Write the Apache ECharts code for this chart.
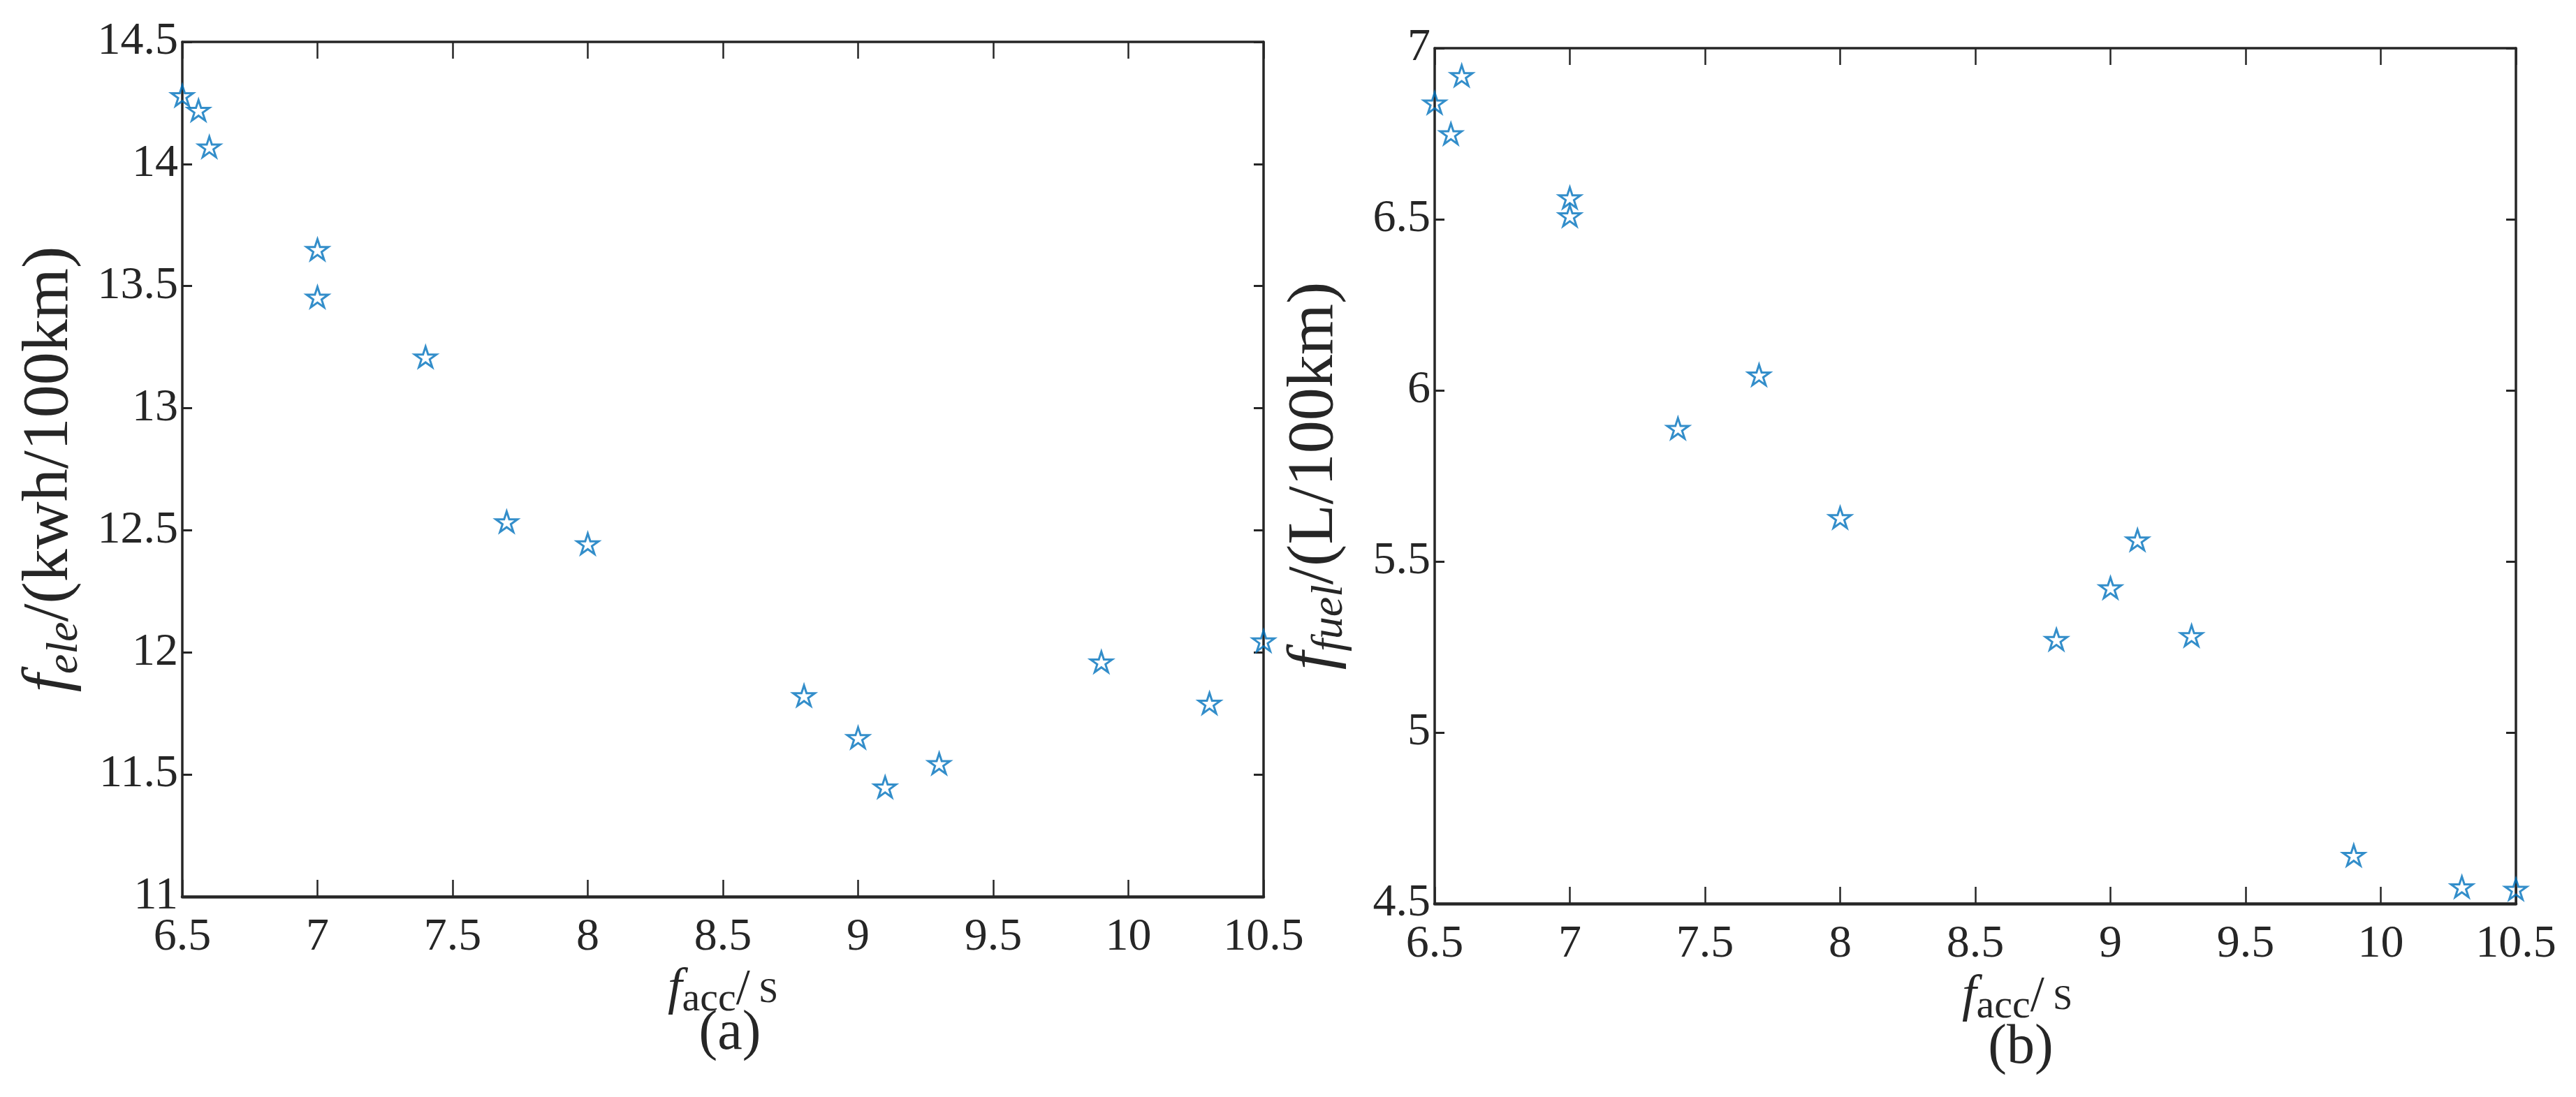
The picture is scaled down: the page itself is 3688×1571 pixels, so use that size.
<!DOCTYPE html>
<html>
<head>
<meta charset="utf-8">
<script src="https://cdn.jsdelivr.net/npm/echarts@6/dist/echarts.min.js"></script>
<style>
html,body{margin:0;padding:0;background:#fff;}
#c{width:3688px;height:1571px;}
</style>
</head>
<body>
<div id="c"></div>
<script>
// ---- data ----
const accA = [6.5, 6.56, 6.6, 7.0, 7.0, 7.4, 7.7, 8.0, 8.8, 9.0, 9.1, 9.3, 9.9, 10.3, 10.5];
const eleA = [14.28, 14.22, 14.07, 13.65, 13.455, 13.21, 12.535, 12.445, 11.823, 11.651, 11.449, 11.545, 11.961, 11.792, 12.047];
const accB = [6.5, 6.56, 6.6, 7.0, 7.0, 7.4, 7.7, 8.0, 8.8, 9.0, 9.1, 9.3, 9.9, 10.3, 10.5];
const fuelB = [6.84, 6.75, 6.92, 6.563, 6.51, 5.889, 6.045, 5.628, 5.272, 5.423, 5.563, 5.283, 4.641, 4.549, 4.542];
const xRange = [6.5, 10.5];
const yRangeA = [11, 14.5];
const yRangeB = [4.5, 7];
const step = 0.5;
const panelLabels = ['(a)', '(b)'];

const FONT = 'Liberation Serif';
const INK = '#262626';
const BLUE = '#0072BD';
const STAR = 'path://M50 0 L61.23 34.55 L97.55 34.55 L68.17 55.9 L79.39 90.45 L50 69.1 L20.61 90.45 L31.83 55.9 L2.45 34.55 L38.77 34.55 Z';

function pairs(xs, ys) { return xs.map((x, i) => [x, ys[i]]); }

const lineStyle = { color: INK, width: 3.5 };
function xAx(grid, pos, show, nameCfg) {
  const a = {
    type: 'value', gridIndex: grid, position: pos, min: xRange[0], max: xRange[1], interval: step,
    axisLine: { show: true, onZero: false, lineStyle: { color: INK, width: pos === 'bottom' ? 4.5 : 3.5 } },
    axisTick: { show: true, inside: true, length: 24, lineStyle: { color: INK, width: 2.5 } },
    axisLabel: { show: show, margin: 26, fontFamily: FONT, fontSize: 66, color: INK },
    splitLine: { show: false }
  };
  if (nameCfg) Object.assign(a, nameCfg);
  return a;
}
function yAx(grid, pos, range, show, nameCfg) {
  const a = {
    type: 'value', gridIndex: grid, position: pos, min: range[0], max: range[1], interval: step,
    axisLine: { show: true, onZero: false, lineStyle },
    axisTick: { show: true, inside: true, length: 14, lineStyle: { color: INK, width: 3 } },
    axisLabel: { show: show, margin: 6, fontFamily: FONT, fontSize: 66, color: INK },
    splitLine: { show: false }
  };
  if (nameCfg) Object.assign(a, nameCfg);
  return a;
}

const xNameRich = {
  f: { fontFamily: FONT, fontStyle: 'italic', fontSize: 74, color: INK },
  s: { fontFamily: FONT, fontSize: 58, color: INK, padding: [28, 0, 0, 0] },
  t: { fontFamily: FONT, fontSize: 72, color: INK },
  u: { fontFamily: FONT, fontSize: 50, color: INK, padding: [8, 0, 0, 0] }
};
const yNameRich = {
  f: { fontFamily: FONT, fontStyle: 'italic', fontSize: 94, color: INK },
  s: { fontFamily: FONT, fontStyle: 'italic', fontSize: 64, color: INK, padding: [44, 0, 0, 0] },
  t: { fontFamily: FONT, fontSize: 94, color: INK }
};
const xName = '{f|f}{s|acc}{t|/}{u| S}';

const option = {
  backgroundColor: '#fff',
  animation: false,
  title: [
    { text: panelLabels[0], left: 1040, top: 1436, textAlign: 'center', textStyle: { fontFamily: FONT, fontSize: 80, fontWeight: 'normal', color: INK } },
    { text: panelLabels[1], left: 2888, top: 1456, textAlign: 'center', textStyle: { fontFamily: FONT, fontSize: 80, fontWeight: 'normal', color: INK } }
  ],
  grid: [
    { left: 261, top: 60, width: 1548, height: 1224 },
    { left: 2054, top: 69, width: 1548, height: 1225 }
  ],
  xAxis: [
    xAx(0, 'bottom', true, { name: xName, nameLocation: 'middle', nameGap: 70, nameTextStyle: { rich: xNameRich } }),
    xAx(0, 'top', false),
    xAx(1, 'bottom', true, { name: xName, nameLocation: 'middle', nameGap: 90, nameTextStyle: { rich: xNameRich, padding: [0, 0, 0, 120] } }),
    xAx(1, 'top', false)
  ],
  yAxis: [
    yAx(0, 'left', yRangeA, true, { name: '{f|f}{s|ele}{t|/(kwh/100km)}', nameLocation: 'middle', nameRotate: 90, nameGap: 136, nameTextStyle: { rich: yNameRich } }),
    yAx(0, 'right', yRangeA, false),
    yAx(1, 'left', yRangeB, true, { name: '{f|f}{s|fuel}{t|/(L/100km)}', nameLocation: 'middle', nameRotate: 90, nameGap: 118, nameTextStyle: { rich: yNameRich } }),
    yAx(1, 'right', yRangeB, false)
  ],
  series: [
    {
      type: 'scatter', xAxisIndex: 0, yAxisIndex: 0, data: pairs(accA, eleA),
      symbol: STAR, symbolSize: 31, symbolKeepAspect: true, clip: false,
      itemStyle: { color: 'rgba(255,255,255,0)', borderColor: BLUE, borderWidth: 3 }
    },
    {
      type: 'scatter', xAxisIndex: 2, yAxisIndex: 2, data: pairs(accB, fuelB),
      symbol: STAR, symbolSize: 31, symbolKeepAspect: true, clip: false,
      itemStyle: { color: 'rgba(255,255,255,0)', borderColor: BLUE, borderWidth: 3 }
    }
  ]
};

const chart = echarts.init(document.getElementById('c'), null, { renderer: 'canvas' });
chart.setOption(option);
</script>
</body>
</html>
